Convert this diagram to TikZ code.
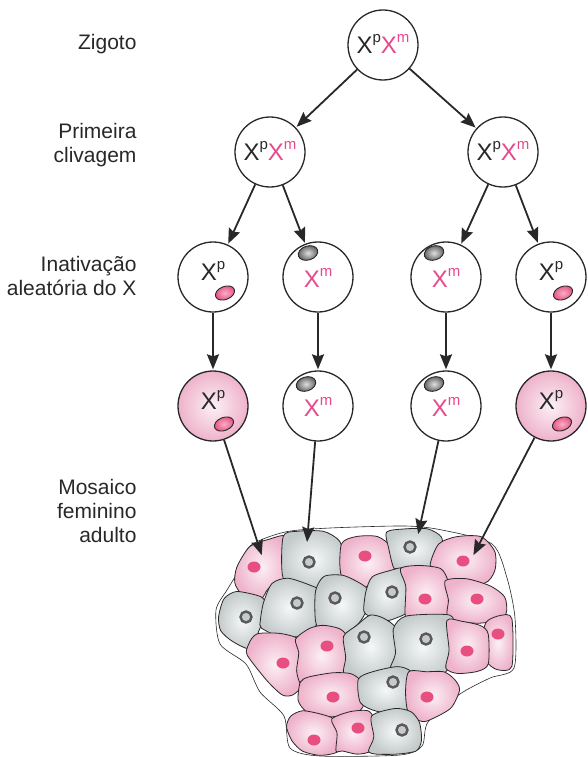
\documentclass[tikz,border=0pt]{standalone}
\usepackage{fontspec}
\setmainfont{Liberation Sans}
\usetikzlibrary{arrows.meta,shapes.geometric}

\definecolor{ink}{RGB}{40,40,40}
\definecolor{xm}{RGB}{232,72,140}
\definecolor{pinkOut}{RGB}{238,178,202}
\definecolor{pinkIn}{RGB}{252,240,245}
\definecolor{grayOut}{RGB}{196,202,202}
\definecolor{grayIn}{RGB}{246,248,248}
\definecolor{nucPink}{RGB}{232,78,128}
\definecolor{nucRing}{RGB}{88,90,90}
\definecolor{nucCore}{RGB}{200,202,202}

% chromosome labels: paternal X in black, maternal X in pink
\newcommand{\patX}{X\raisebox{0.48em}{\fontsize{15}{15}\selectfont p}}
\newcommand{\matX}{\textcolor{xm}{X\raisebox{0.48em}{\fontsize{15}{15}\selectfont m}}}

% one tissue cell: style, centre used for slight enlargement, outline points
\newcommand{\tissuecell}[3]{\path[#1, scale around={1.06:(#2)}] plot[sm] coordinates {#3};}

\tikzset{
  cellc/.style={circle, draw=ink, line width=1.3pt, minimum size=70pt, inner sep=0pt, fill=white},
  cellpk/.style={cellc, inner color=pinkIn, outer color=pinkOut},
  xtext/.style={inner sep=0pt, font=\fontsize{24}{24}\selectfont, text=ink},
  spotp/.style={ellipse, draw=ink, line width=0.9pt, minimum width=20pt, minimum height=13pt,
                inner sep=0pt, inner color=nucPink!45!white, outer color=nucPink},
  spotg/.style={ellipse, draw=ink, line width=0.9pt, minimum width=20pt, minimum height=14pt,
                inner sep=0pt, inner color=gray!25, outer color=gray!70!black},
  arr/.style={draw=ink, line width=1.8pt, -{Stealth[length=15pt,width=12pt,inset=2pt]}, shorten >=1pt},
  lbl/.style={anchor=east, align=right, text=ink, font=\fontsize{21}{24}\selectfont},
  pinkcell/.style={draw=ink, line width=0.8pt, inner color=pinkIn, outer color=pinkOut},
  graycell/.style={draw=ink, line width=0.8pt, inner color=grayIn, outer color=grayOut},
  pinknuc/.style={ellipse, fill=nucPink, minimum width=13pt, minimum height=11pt, inner sep=0pt},
  graynuc/.style={circle, draw=nucRing, line width=2.4pt, fill=nucCore, minimum size=11pt, inner sep=0pt},
  sm/.style={smooth cycle, tension=0.45}
}

\begin{document}
\begin{tikzpicture}[x=1pt, y=-1pt]
\useasboundingbox (0,0) rectangle (587,757);

% ---- stage labels ----
\node[lbl] (l1) at (140,44) {Zigoto};
\node[lbl] (l2) at (140,145) {Primeira\\clivagem};
\node[lbl] (l3) at (140,276) {Inativação\\aleatória do X};
\node[lbl] (l4) at (140,511) {Mosaico\\feminino\\adulto};

% ---- zygote and first cleavage ----
\node[cellc] (z) at (383,45) {};
\node[xtext] (tz) at (383,44) {\patX\matX};
\node[cellc] (c2a) at (270,152) {};
\node[cellc] (c2b) at (503,152) {};
\node[xtext] (t2a) at (270,151) {\patX\matX};
\node[xtext] (t2b) at (503,151) {\patX\matX};

% ---- random X inactivation ----
\node[cellc] (c3a) at (213,277) {};
\node[cellc] (c3b) at (318,277) {};
\node[cellc] (c3c) at (446,277) {};
\node[cellc] (c3d) at (551,277) {};
\node[xtext] (t3a) at (213,271) {\patX};
\node[xtext] (t3b) at (318,278) {\matX};
\node[xtext] (t3c) at (446,278) {\matX};
\node[xtext] (t3d) at (551,271) {\patX};
\node[spotp, rotate=22] (s3a) at ([shift={(12,16)}]c3a.center) {};
\node[spotg, rotate=18] (s3b) at ([shift={(-10,-24)}]c3b.center) {};
\node[spotg, rotate=18] (s3c) at ([shift={(-12,-24)}]c3c.center) {};
\node[spotp, rotate=22] (s3d) at ([shift={(12,16)}]c3d.center) {};

% ---- clonal descendants ----
\node[cellpk] (c4a) at (213,406) {};
\node[cellc] (c4b) at (318,406) {};
\node[cellc] (c4c) at (446,406) {};
\node[cellpk] (c4d) at (551,406) {};
\node[xtext] (t4a) at (213,400) {\patX};
\node[xtext] (t4b) at (318,407) {\matX};
\node[xtext] (t4c) at (446,407) {\matX};
\node[xtext] (t4d) at (551,400) {\patX};
\node[spotp, rotate=22] (s4a) at ([shift={(11,18)}]c4a.center) {};
\node[spotg, rotate=18] (s4b) at ([shift={(-12,-22)}]c4b.center) {};
\node[spotg, rotate=18] (s4c) at ([shift={(-12,-22)}]c4c.center) {};
\node[spotp, rotate=22] (s4d) at ([shift={(11,18)}]c4d.center) {};

% ---- adult mosaic tissue ----
\draw[ink, line width=0.6pt] plot[sm] coordinates {(236,575) (250,546) (285,532) (330,528) (405,526) (442,530) (492,544) (507,578) (515,618) (514,668) (490,678) (460,694) (428,722) (422,746) (400,755) (320,756) (290,748) (284,716) (260,692) (246,664) (220,644) (216,610) (227,590)};

\tissuecell{pinkcell}{256,569}{(238,567) (250,548) (268,541) (285,538) (286,560) (285,577) (268,587) (260,598) (243,593) (236,582)}
\tissuecell{graycell}{316,561}{(285,538) (298,533) (323,533) (338,542) (343,560) (342,575) (325,582) (317,587) (303,582) (285,577)}
\tissuecell{pinkcell}{369,562}{(343,545) (357,538) (377,538) (390,548) (395,567) (387,573) (367,585) (362,588) (343,575)}
\tissuecell{graycell}{413,548}{(388,533) (405,530) (427,530) (440,538) (440,553) (432,565) (403,567) (395,567) (390,548)}
\tissuecell{pinkcell}{463,560}{(440,545) (457,538) (480,538) (493,552) (493,570) (483,582) (450,582) (442,570) (432,565)}
\tissuecell{graycell}{243,618}{(220,617) (225,600) (237,593) (260,598) (265,607) (262,620) (258,630) (250,647) (233,640) (222,630)}
\tissuecell{graycell}{290,610}{(265,603) (273,585) (288,580) (310,587) (317,592) (317,613) (312,630) (298,635) (280,635) (263,627) (262,620)}
\tissuecell{graycell}{342,604}{(317,592) (325,578) (343,577) (360,585) (367,592) (365,610) (357,623) (342,633) (323,630) (317,620)}
\tissuecell{graycell}{386,597}{(367,592) (373,578) (390,572) (403,570) (408,587) (407,610) (395,617) (383,620) (370,615) (365,610)}
\tissuecell{pinkcell}{427,592}{(402,570) (420,567) (440,570) (447,582) (450,600) (448,617) (423,617) (407,617) (407,587)}
\tissuecell{pinkcell}{477,601}{(447,582) (467,580) (490,587) (503,597) (505,610) (500,618) (477,622) (450,617) (450,600)}
\tissuecell{pinkcell}{497,642}{(487,623) (500,617) (511,620) (511,665) (497,668) (487,660) (483,640)}
\tissuecell{pinkcell}{278,661}{(253,640) (260,635) (280,635) (297,640) (300,653) (298,670) (302,683) (292,693) (282,693) (268,680) (252,660) (248,652)}
\tissuecell{pinkcell}{321,655}{(297,640) (310,630) (323,627) (338,630) (345,637) (347,657) (345,672) (333,675) (310,683) (302,683) (298,670) (300,653)}
\tissuecell{graycell}{369,648}{(345,637) (357,627) (370,617) (383,620) (395,630) (397,653) (392,667) (370,675) (357,677) (345,672) (347,657)}
\tissuecell{graycell}{422,650}{(395,630) (407,618) (448,617) (452,630) (450,650) (447,667) (440,673) (417,677) (398,668) (392,667) (397,653)}
\tissuecell{pinkcell}{466,648}{(448,622) (463,623) (480,627) (487,635) (487,663) (477,670) (458,672) (447,667) (450,650)}
\tissuecell{pinkcell}{331,695}{(302,683) (310,678) (333,674) (350,675) (360,683) (362,702) (358,710) (340,715) (320,715) (307,710) (300,700)}
\tissuecell{graycell}{389,691}{(360,680) (373,673) (397,668) (410,673) (413,690) (408,707) (397,712) (377,710) (362,702)}
\tissuecell{pinkcell}{431,694}{(410,673) (427,673) (443,673) (453,680) (458,690) (450,707) (433,717) (423,720) (410,713) (407,693)}
\tissuecell{pinkcell}{313,732}{(292,717) (303,712) (320,715) (333,720) (338,733) (337,750) (320,754) (303,750) (293,740) (288,727)}
\tissuecell{pinkcell}{354,734}{(333,720) (350,713) (367,712) (373,720) (375,737) (370,750) (357,753) (343,750) (337,750) (338,733)}
\tissuecell{graycell}{395,735}{(373,717) (395,710) (410,713) (418,723) (420,740) (415,750) (397,753) (377,753) (370,750) (375,737)}

% nuclei: active maternal X (pink) / inactive X (grey Barr body)
\node[pinknuc] (n1) at (254,567) {};
\node[graynuc] (n2) at (309,562) {};
\node[pinknuc] (n3) at (365,556) {};
\node[graynuc] (n4) at (410,547) {};
\node[pinknuc] (n5) at (463,561) {};
\node[graynuc] (n6) at (246,617) {};
\node[graynuc] (n7) at (297,603) {};
\node[graynuc] (n8) at (335,598) {};
\node[graynuc] (n9) at (392,592) {};
\node[pinknuc] (n10) at (425,599) {};
\node[pinknuc] (n11) at (477,599) {};
\node[pinknuc] (n12) at (498,634) {};
\node[pinknuc] (n13) at (283,663) {};
\node[pinknuc] (n14) at (327,646) {};
\node[graynuc] (n15) at (364,637) {};
\node[graynuc] (n16) at (426,639) {};
\node[pinknuc] (n17) at (467,651) {};
\node[pinknuc] (n18) at (333,697) {};
\node[graynuc] (n19) at (393,682) {};
\node[pinknuc] (n20) at (427,697) {};
\node[pinknuc] (n21) at (314,740) {};
\node[pinknuc] (n22) at (358,728) {};
\node[graynuc] (n23) at (402,730) {};

% arrow targets on the tissue
\coordinate (m1) at (262,556);
\coordinate (m2) at (307,543);
\coordinate (m3) at (418,535);
\coordinate (m4) at (473,556);

% ---- lineage arrows ----
\draw[arr] (z) -- (c2a);
\draw[arr] (z) -- (c2b);
\draw[arr] (c2a) -- (c3a);
\draw[arr] (c2a) -- (c3b);
\draw[arr] (c2b) -- (c3c);
\draw[arr] (c2b) -- (c3d);
\draw[arr] (c3a) -- (c4a);
\draw[arr] (c3b) -- (c4b);
\draw[arr] (c3c) -- (c4c);
\draw[arr] (c3d) -- (c4d);
\draw[arr] (c4a) -- (m1);
\draw[arr] (c4b) -- (m2);
\draw[arr] (c4c) -- (m3);
\draw[arr] (c4d) -- (m4);
\end{tikzpicture}
\end{document}
